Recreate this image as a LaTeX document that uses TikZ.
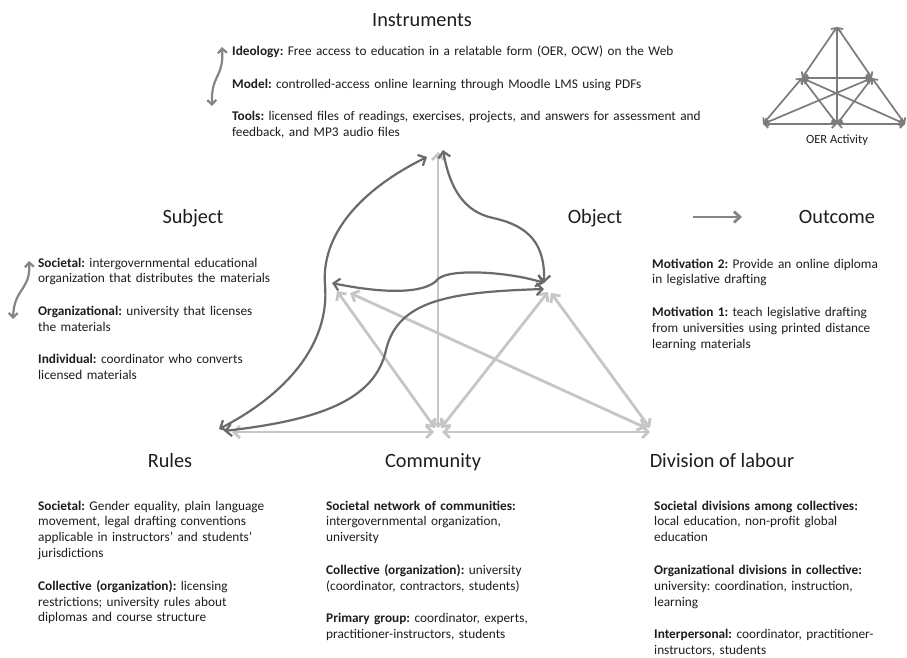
\documentclass[tikz,border=0pt]{standalone}
\usepackage{fontspec}
\setmainfont{Carlito}
\usetikzlibrary{arrows.meta}
\definecolor{inktext}{HTML}{1E1E1E}
\definecolor{lightline}{HTML}{C6C6C6}
\definecolor{darkline}{HTML}{6A6A6A}
\definecolor{midline}{HTML}{858585}
\definecolor{oerline}{HTML}{7C7C7C}
\frenchspacing
\begin{document}
\begin{tikzpicture}[x=1pt,y=-1pt,
  heading/.style={font=\fontsize{20.3}{24}\selectfont, text=inktext, inner sep=0pt, anchor=base},
  block/.style={font=\fontsize{13.3}{15.9}\selectfont\frenchspacing, text=inktext, inner sep=0pt,
    align=left, text width=480pt, anchor=base west},
  lightedge/.style={draw=lightline, line width=2.8pt, >={Straight Barb[length=6pt,width=12pt]}, <->},
  darkedge/.style={draw=darkline, line width=2.2pt, >={Straight Barb[length=6pt,width=12pt]}, <->},
  waveedge/.style={draw=midline, line width=2.2pt, >={Straight Barb[length=4.5pt,width=9pt]}, <->},
  oeredge/.style={draw=oerline, line width=1.7pt, >={Straight Barb[length=4pt,width=8pt]}, <->},
]
\useasboundingbox (0,0) rectangle (907,658);
\fill[white] (0,0) rectangle (907,658);

% ---------- headings ----------
\node[heading] (instr) at (422,27) {Instruments};
\node[heading] (subj)  at (193,223) {Subject};
\node[heading] (obj)   at (595,223) {Object};
\node[heading] (outc)  at (837,223) {Outcome};
\node[heading] (rules) at (170,467) {Rules};
\node[heading] (comm)  at (433,467) {Community};
\node[heading] (divl)  at (722,467) {Division of labour};

% ---------- text blocks ----------
\node[block] (instrtext) at (232,56) {\textbf{Ideology:} Free access to education in a relatable form (OER, OCW) on the Web\\[16.5pt]
\textbf{Model:} controlled-access online learning through Moodle LMS using PDFs\\[16.5pt]
\textbf{Tools:} licensed files of readings, exercises, projects, and answers for assessment and\\
feedback, and MP3 audio files};

\node[block] (subjtext) at (38,267) {\textbf{Societal:} intergovernmental educational\\
organization that distributes the materials\\[16.5pt]
\textbf{Organizational:} university that licenses\\
the materials\\[16.5pt]
\textbf{Individual:} coordinator who converts\\
licensed materials};

\node[block] (outctext) at (652,268) {\textbf{Motivation 2:} Provide an online diploma\\
in legislative drafting\\[16.5pt]
\textbf{Motivation 1:} teach legislative drafting\\
from universities using printed distance\\
learning materials};

\node[block] (rulestext) at (38,510) {\textbf{Societal:} Gender equality, plain language\\
movement, legal drafting conventions\\
applicable in instructors’ and students’\\
jurisdictions\\[16.5pt]
\textbf{Collective (organization):} licensing\\
restrictions; university rules about\\
diplomas and course structure};

\node[block] (commtext) at (326,510) {\textbf{Societal network of communities:}\\
intergovernmental organization,\\
university\\[16.5pt]
\textbf{Collective (organization):} university\\
(coordinator, contractors, students)\\[16.5pt]
\textbf{Primary group:} coordinator, experts,\\
practitioner-instructors,  students};

\node[block] (divtext) at (654,510) {\textbf{Societal divisions among collectives:}\\
local education, non-profit global\\
education\\[16.5pt]
\textbf{Organizational divisions in collective:}\\
university: coordination, instruction,\\
learning\\[16.5pt]
\textbf{Interpersonal:} coordinator, practitioner-\\
instructors, students};

% ---------- small level arrows ----------
\coordinate (iwTop) at (222,47);
\coordinate (iwBot) at (212,106);
\draw[waveedge] (iwTop) .. controls (224,78) and (211,74) .. (iwBot);
\coordinate (swTop) at (29,261);
\coordinate (swBot) at (13,319);
\draw[waveedge] (swTop) .. controls (31,290) and (14,288) .. (swBot);

% object -> outcome
\coordinate (oaStart) at (693,217);
\coordinate (oaEnd) at (742,217);
\draw[draw=midline, line width=2.8pt, -{Straight Barb[length=6pt,width=11pt]}] (oaStart) -- (oaEnd);

% ---------- activity system triangle ----------
\coordinate (Ttop) at (438,152);
\coordinate (Tbot) at (438,428);
\coordinate (Sa) at (337,291);
\coordinate (Sb) at (350,293);
\coordinate (Oa) at (548,292);
\coordinate (Ob) at (551,293);
\coordinate (Ca) at (435,428);
\coordinate (Cb) at (441,428);
\coordinate (Cl) at (434,432);
\coordinate (Cr) at (442,432);
\coordinate (Da) at (646,428);
\coordinate (Db) at (650,428);
\coordinate (Dc) at (650,432);
\coordinate (Rl) at (232,432);

\draw[lightedge] (Ttop) -- (Tbot);
\draw[lightedge] (Sa) -- (Ca);
\draw[lightedge] (Sb) -- (Da);
\draw[lightedge] (Oa) -- (Cb);
\draw[lightedge] (Ob) -- (Db);
\draw[lightedge] (Rl) -- (Cl);
\draw[lightedge] (Cr) -- (Dc);

\coordinate (Rdark) at (219,429);
\coordinate (Rdark2) at (224,431);
\coordinate (Tl) at (427,157);
\coordinate (Tr) at (443,150);
\coordinate (Sd) at (332,283);
\coordinate (Od) at (544,283);
\coordinate (Od2) at (544,289);

% rules <-> instruments
\draw[darkedge] (Rdark) .. controls (285,395) and (330,345) .. (325,285)
  .. controls (321,235) and (360,190) .. (Tl);
% instruments <-> object
\draw[darkedge] (Tr) .. controls (450,190) and (465,212) .. (493,218)
  .. controls (530,226) and (545,245) .. (Od);
% subject <-> object
\draw[darkedge] (Sd) .. controls (380,293) and (425,295) .. (438,279)
  .. controls (450,268) and (510,272) .. (Od);
% rules <-> object
\draw[darkedge] (Rdark2) .. controls (320,420) and (375,400) .. (386,350)
  .. controls (398,300) and (450,292) .. (Od2);

% ---------- OER activity emblem ----------
\coordinate (eTop) at (837,27);
\coordinate (eLm) at (802,78);
\coordinate (eRm) at (872,78);
\coordinate (eBl) at (763,124);
\coordinate (eBm) at (837,124);
\coordinate (eBr) at (905,124);
\draw[oeredge] (eTop) -- (eLm);
\draw[oeredge] (eTop) -- (eRm);
\draw[oeredge] (eTop) -- (eBm);
\draw[oeredge] (eLm) -- (eRm);
\draw[oeredge] (eLm) -- (eBl);
\draw[oeredge] (eRm) -- (eBr);
\draw[oeredge] (eLm) -- (eBm);
\draw[oeredge] (eRm) -- (eBm);
\draw[oeredge] (eLm) -- (eBr);
\draw[oeredge] (eRm) -- (eBl);
\draw[oeredge] (eBl) -- (eBm);
\draw[oeredge] (eBm) -- (eBr);
\node[font=\fontsize{12.5}{15}\selectfont, text=inktext, inner sep=0pt, anchor=base] (oerlabel) at (837,143) {OER Activity};
\end{tikzpicture}
\end{document}
